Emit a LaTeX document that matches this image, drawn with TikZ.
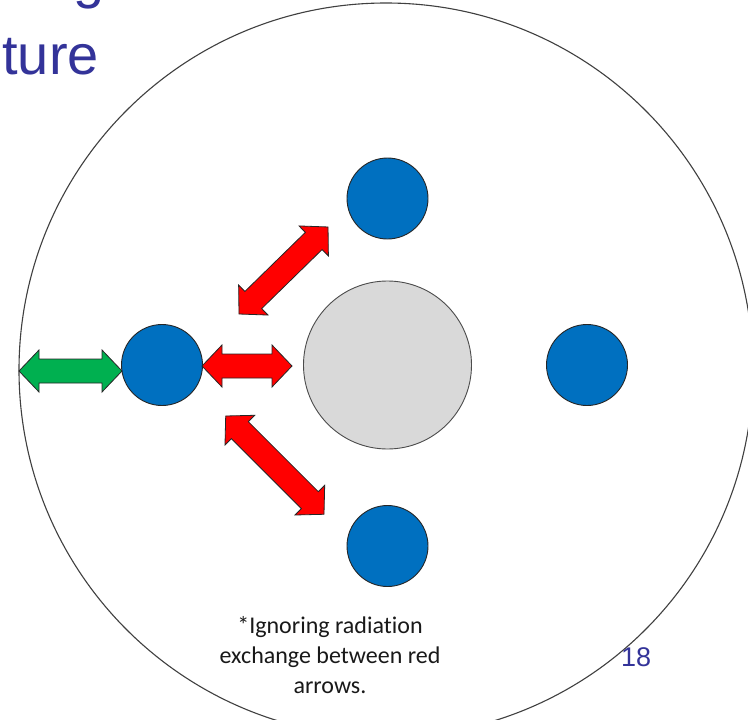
\documentclass[tikz,border=0pt]{standalone}
\usepackage{fontspec}
\setmainfont{Liberation Sans}
\newfontfamily\calib[Ligatures=NoCommon]{Carlito}
\definecolor{titleblue}{RGB}{51,51,153}
\definecolor{ballblue}{RGB}{0,112,192}
\definecolor{coregray}{RGB}{217,217,217}
\definecolor{arrred}{RGB}{255,0,0}
\definecolor{arrgreen}{RGB}{0,176,80}
\begin{document}
\begin{tikzpicture}[x=1pt,y=-1pt,
  ball/.style={circle,draw=black!85,line width=0.9pt,fill=ballblue,minimum size=81pt,inner sep=0pt},
  core/.style={circle,draw=black!70,line width=0.9pt,fill=coregray,minimum size=168pt,inner sep=0pt},
  barrow/.style={draw=black!85,line width=0.8pt,line join=miter},
  notetext/.style={font=\calib\fontsize{24}{30}\selectfont,anchor=base,inner sep=0pt,text=black!90},
  pics/blockarrow/.style={code={
    \path[barrow,pic actions] (0,0) -- (20,21) -- (20,12) -- (#1-20,12) -- (#1-20,21)
      -- (#1,0) -- (#1-20,-21) -- (#1-20,-12) -- (20,-12) -- (20,-21) -- cycle;}}
]
\useasboundingbox (0,0) rectangle (748,720);
\clip (0,0) rectangle (748,720);
\fill[white] (0,0) rectangle (748,720);

% title fragments
\node[anchor=base west,text=titleblue,font=\fontsize{56}{67}\selectfont,inner sep=0pt] (title1) at (73,-2) {g};
\node[anchor=base east,text=titleblue,font=\fontsize{56}{67}\selectfont,inner sep=0pt] (title2) at (99,74) {ture};

% outer circle
\node[circle,draw=black!75,line width=1.1pt,minimum size=734pt,inner sep=0pt] (outer) at (386,370) {};

% core and balls
\node[core] (core) at (387.5,365) {};
\node[ball] (btop) at (387.5,198.5) {};
\node[ball] (bbot) at (387.5,546) {};
\node[ball] (bleft) at (162,365) {};
\node[ball] (bright) at (587,365) {};

% arrow anchors
\coordinate (gstart) at (19,371);
\coordinate (rhstart) at (202,366);
\coordinate (rustart) at (239,314);
\coordinate (rlstart) at (225.7,416);

\pic[fill=arrgreen] at (gstart) {blockarrow=103};
\pic[fill=arrred] at (rhstart) {blockarrow=90};
\pic[fill=arrred,rotate=44.35] at (rustart) {blockarrow=124.5};
\pic[fill=arrred,rotate=-45] at (rlstart) {blockarrow=139};

% note
\node[notetext] (note1) at (330,633) {*Ignoring radiation};
\node[notetext] (note2) at (330,663) {exchange between red};
\node[notetext] (note3) at (330,693) {arrows.};

% page number
\node[anchor=base west,text=titleblue,font=\fontsize{27}{32}\selectfont,inner sep=0pt] (pnum) at (621,666) {18};
\end{tikzpicture}
\end{document}
